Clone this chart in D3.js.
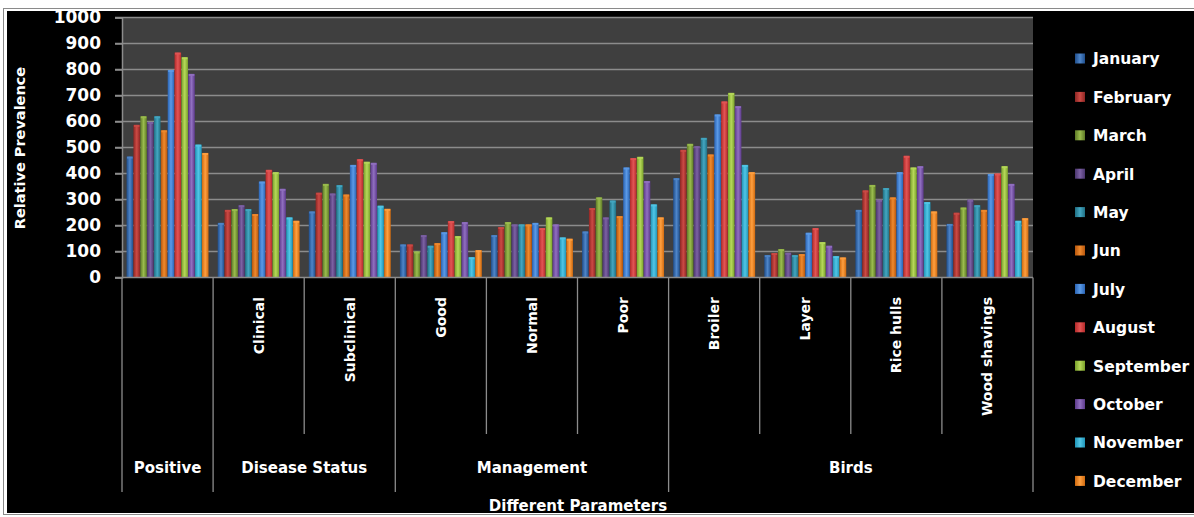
<!DOCTYPE html>
<html>
<head>
<meta charset="utf-8">
<script src="https://cdn.jsdelivr.net/npm/d3@7"></script>
<style>
  html, body { margin: 0; padding: 0; background: #fff; }
  svg { display: block; }
  text { font-family: "DejaVu Sans", sans-serif; font-weight: bold; fill: #fff; }
</style>
</head>
<body>
<svg id="chart" width="1194" height="517"></svg>
<script>
// Categories along the x axis, with their group labels
const categories = ["Positive", "Clinical", "Subclinical", "Good", "Normal", "Poor",
                    "Broiler", "Layer", "Rice hulls", "Wood shavings"];
const categoryLabels = ["", "Clinical", "Subclinical", "Good", "Normal", "Poor",
                        "Broiler", "Layer", "Rice hulls", "Wood shavings"];
const groups = [
  { name: "Positive", from: 0, to: 1 },
  { name: "Disease Status", from: 1, to: 3 },
  { name: "Management", from: 3, to: 6 },
  { name: "Birds", from: 6, to: 10 }
];
const months = ["January", "February", "March", "April", "May", "Jun",
                "July", "August", "September", "October", "November", "December"];

// Relative prevalence per month, one value per category
const january   = [465, 210, 254, 127, 163, 177, 382, 86, 260, 206];
const february  = [587, 260, 326, 127, 194, 267, 491, 94, 335, 249];
const march     = [620, 263, 360, 100, 213, 308, 514, 109, 356, 269];
const april     = [598, 278, 323, 163, 204, 231, 505, 95, 299, 299];
const may       = [620, 263, 355, 122, 204, 296, 537, 86, 344, 278];
const jun       = [566, 244, 319, 132, 204, 236, 473, 90, 308, 260];
const july      = [798, 369, 433, 174, 210, 423, 627, 172, 405, 398];
const august    = [865, 414, 455, 217, 190, 459, 677, 190, 468, 400];
const september = [847, 405, 445, 159, 231, 464, 710, 136, 423, 428];
const october   = [783, 341, 441, 213, 204, 371, 659, 122, 428, 360];
const november  = [511, 231, 276, 78, 154, 281, 433, 82, 290, 218];
const december  = [479, 218, 264, 105, 149, 231, 405, 77, 254, 228];
const series = [january, february, march, april, may, jun,
                july, august, september, october, november, december];

const yTicks = [0, 100, 200, 300, 400, 500, 600, 700, 800, 900, 1000];

// Base colour of each month: [edge, centre]
const colors = [
  ["#1f4e8c", "#4f86c9"], ["#8e2623", "#cc4a45"], ["#5e7a26", "#9bbd4e"],
  ["#4a356e", "#7d62a4"], ["#1f6f83", "#44a7c2"], ["#b8560c", "#ef8a2e"],
  ["#2a64b5", "#5b9ae6"], ["#b52a2a", "#e25555"], ["#7aa22a", "#b6d85a"],
  ["#5d3a8c", "#9170c0"], ["#1f95b8", "#52c6e6"], ["#d06a0f", "#ffa040"]
];

const svg = d3.select("#chart");
const W = 1194, H = 517;

// Frame and black chart background
svg.append("rect").attr("x", 3.5).attr("y", 8.5).attr("width", 1200).attr("height", 506)
  .attr("fill", "none").attr("stroke", "#8a8a8a").attr("stroke-width", 1);
svg.append("rect").attr("x", 7).attr("y", 11).attr("width", W - 7).attr("height", 502)
  .attr("fill", "#000");

const plot = { left: 122, right: 1033, top: 17.5, bottom: 277.5 };

const x0 = d3.scaleBand().domain(categories).range([plot.left, plot.right]).padding(0);
const x1 = d3.scaleBand().domain(d3.range(12))
  .range([4.3, x0.bandwidth() - 4.3]).padding(0.04);
const y = d3.scaleLinear().domain([0, 1000]).range([plot.bottom, plot.top]);

// Gradients giving the bars their rounded look
const defs = svg.append("defs");
colors.forEach((c, i) => {
  const g = defs.append("linearGradient").attr("id", "bar" + i)
    .attr("x1", "0").attr("x2", "1").attr("y1", "0").attr("y2", "0");
  g.append("stop").attr("offset", "0%").attr("stop-color", c[0]);
  g.append("stop").attr("offset", "50%").attr("stop-color", c[1]);
  g.append("stop").attr("offset", "100%").attr("stop-color", c[0]);
});

// Plot area
svg.append("rect").attr("x", plot.left).attr("y", plot.top)
  .attr("width", plot.right - plot.left).attr("height", plot.bottom - plot.top)
  .attr("fill", "#3f3f3f");

// Gridlines
svg.append("g").selectAll("line").data(yTicks.filter(d => d > 0)).join("line")
  .attr("x1", plot.left - 7).attr("x2", plot.right)
  .attr("y1", d => y(d)).attr("y2", d => y(d))
  .attr("stroke", "#8c8c8c").attr("stroke-width", 1.5);

// Y axis
const yAxis = svg.append("g").attr("transform", `translate(${plot.left},0)`)
  .call(d3.axisLeft(y).tickValues(yTicks).tickFormat(d3.format("d"))
    .tickSize(7).tickPadding(14));
yAxis.select(".domain").attr("stroke", "#8c8c8c").attr("stroke-width", 1.5);
yAxis.selectAll(".tick line").attr("stroke", "#8c8c8c").attr("stroke-width", 1.5);
yAxis.selectAll(".tick text").attr("font-size", 17)
  .attr("font-family", "DejaVu Sans").attr("font-weight", "bold").attr("fill", "#fff");

// Bars
const catG = svg.append("g").selectAll("g").data(categories).join("g")
  .attr("transform", d => `translate(${x0(d)},0)`);
catG.selectAll("rect").data((d, ci) => series.map((s, mi) => ({ m: mi, v: s[ci] })))
  .join("rect")
  .attr("x", d => x1(d.m)).attr("width", x1.bandwidth())
  .attr("y", d => y(d.v)).attr("height", d => y(0) - y(d.v))
  .attr("fill", d => `url(#bar${d.m})`);
catG.selectAll("line.cap").data((d, ci) => series.map((s, mi) => ({ m: mi, v: s[ci] })))
  .join("line").attr("class", "cap")
  .attr("x1", d => x1(d.m) + 0.5).attr("x2", d => x1(d.m) + x1.bandwidth() - 0.5)
  .attr("y1", d => y(d.v) + 1).attr("y2", d => y(d.v) + 1)
  .attr("stroke", d => colors[d.m][1]).attr("stroke-width", 2).attr("opacity", 0.9);

// Baseline of the plot
svg.append("line").attr("x1", plot.left - 7).attr("x2", plot.right)
  .attr("y1", plot.bottom).attr("y2", plot.bottom)
  .attr("stroke", "#8c8c8c").attr("stroke-width", 1.5);

// Category separators below the axis
const groupEdges = new Set(groups.map(g => g.from).concat([categories.length]));
svg.append("g").selectAll("line").data(d3.range(categories.length + 1)).join("line")
  .attr("x1", i => i < categories.length ? x0(categories[i]) : plot.right)
  .attr("x2", i => i < categories.length ? x0(categories[i]) : plot.right)
  .attr("y1", plot.bottom)
  .attr("y2", i => groupEdges.has(i) ? 492 : 434)
  .attr("stroke", "#8c8c8c").attr("stroke-width", 1.3);

// Rotated category labels
svg.append("g").selectAll("text").data(categories).join("text")
  .attr("transform", (d, i) => `translate(${x0(d) + x0.bandwidth() / 2 + 5},297) rotate(-90)`)
  .attr("text-anchor", "end").attr("font-size", 14)
  .text((d, i) => categoryLabels[i]);

// Group labels
svg.append("g").selectAll("text").data(groups).join("text")
  .attr("x", g => {
    const a = x0(categories[g.from]);
    const b = g.to < categories.length ? x0(categories[g.to]) : plot.right;
    return (a + b) / 2;
  })
  .attr("y", 473).attr("text-anchor", "middle").attr("font-size", 15)
  .text(g => g.name);

// Axis titles
svg.append("text").attr("transform", "translate(25,148) rotate(-90)")
  .attr("text-anchor", "middle").attr("font-size", 14.5).text("Relative Prevalence");
svg.append("text").attr("x", 578).attr("y", 511)
  .attr("text-anchor", "middle").attr("font-size", 15).text("Different Parameters");

// Legend
const legend = svg.append("g").selectAll("g").data(months).join("g")
  .attr("transform", (d, i) => `translate(1075,${59 + i * 38.4})`);
legend.append("rect").attr("x", 0).attr("y", -5.5).attr("width", 10).attr("height", 10)
  .attr("fill", (d, i) => `url(#bar${i})`);
legend.append("text").attr("x", 18).attr("y", 0).attr("dy", "0.35em")
  .attr("font-size", 15.5).text(d => d);
</script>
</body>
</html>
